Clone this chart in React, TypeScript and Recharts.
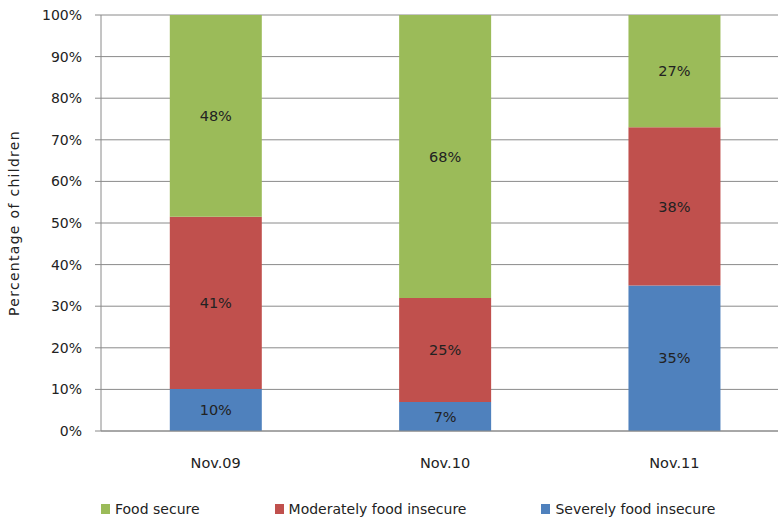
import { BarChart, Bar, XAxis, YAxis, CartesianGrid, LabelList, Legend, Label } from "recharts";

const periods = ["Nov.09", "Nov.10", "Nov.11"];
const severelyInsecure = [10, 7, 35];
const moderatelyInsecure = [41, 25, 38];
const foodSecure = [48, 68, 27];
const yTicks = [0, 0.1, 0.2, 0.3, 0.4, 0.5, 0.6, 0.7, 0.8, 0.9, 1];
const boundaryTicks = [0, 1, 2, 3];
const legendOrder = ["Food secure", "Moderately food insecure", "Severely food insecure"];

const chartData = periods.map((period, i) => ({
  period,
  severe: severelyInsecure[i],
  moderate: moderatelyInsecure[i],
  secure: foodSecure[i],
}));

const FONT = "'DejaVu Sans', Verdana, sans-serif";
const AXIS_GRAY = "#8a8a8a";
const TEXT = "#222";

const series = [
  { key: "severe", name: "Severely food insecure", color: "#4F81BD" },
  { key: "moderate", name: "Moderately food insecure", color: "#C0504D" },
  { key: "secure", name: "Food secure", color: "#9BBB59" },
];

function renderLegend(props: any) {
  const payload = props.payload || [];
  const items = legendOrder
    .map((name) => payload.find((p: any) => p.value === name))
    .filter(Boolean);
  return (
    <div style={{ display: "flex", gap: 75, fontFamily: FONT, fontSize: 14, color: TEXT }}>
      {items.map((item: any) => (
        <div key={item.value} style={{ display: "flex", alignItems: "center" }}>
          <span style={{ display: "inline-block", width: 9, height: 10, background: item.color, marginRight: 5 }} />
          <span>{item.value}</span>
        </div>
      ))}
    </div>
  );
}

function YTitle(props: any) {
  const vb = props.viewBox || {};
  const cy = vb.y + vb.height / 2;
  return (
    <text
      x={14}
      y={cy}
      transform={`rotate(-90, 14, ${cy})`}
      textAnchor="middle"
      dominantBaseline="central"
      style={{ fontFamily: FONT, fontSize: 14, letterSpacing: 1.3, fill: TEXT }}
    >
      Percentage of children
    </text>
  );
}

export default function App() {
  return (
    <div style={{ position: "absolute", left: 0, top: 0, width: 778, height: 519, overflow: "hidden", background: "#fff" }}>
      <BarChart
        width={789}
        height={519}
        data={chartData}
        stackOffset="expand"
        barCategoryGap="30%"
        margin={{ top: 15, right: 0, bottom: 0, left: 10 }}
      >
        <CartesianGrid vertical={false} stroke={AXIS_GRAY} xAxisId="cat" />
        <XAxis
          xAxisId="edges"
          type="number"
          domain={[0, 3]}
          ticks={boundaryTicks}
          height={0}
          axisLine={false}
          tick={false}
          tickLine={{ stroke: AXIS_GRAY }}
          tickSize={6}
        />
        <XAxis
          xAxisId="cat"
          dataKey="period"
          height={72}
          axisLine={{ stroke: AXIS_GRAY }}
          tickLine={false}
          tickSize={0}
          tickMargin={27}
          tick={{ fill: TEXT, fontFamily: FONT, fontSize: 14.5 }}
        />
        <YAxis
          width={91}
          ticks={yTicks}
          domain={[0, 1]}
          interval={0}
          tickFormatter={(v: number) => `${Math.round(v * 100)}%`}
          axisLine={{ stroke: AXIS_GRAY }}
          tickLine={{ stroke: AXIS_GRAY }}
          tickSize={6}
          tickMargin={13}
          tick={{ fill: TEXT, fontFamily: FONT, fontSize: 14 }}
        >
          <Label content={<YTitle />} />
        </YAxis>
        <Legend
          verticalAlign="bottom"
          content={renderLegend}
          wrapperStyle={{ left: 101, bottom: 2, width: "auto" }}
        />
        {series.map((s) => (
          <Bar key={s.key} xAxisId="cat" dataKey={s.key} name={s.name} stackId="a" fill={s.color} isAnimationActive={false}>
            <LabelList
              dataKey={s.key}
              position="center"
              formatter={(v: any) => `${v}%`}
              style={{ fill: TEXT, fontFamily: FONT, fontSize: 14.5 }}
            />
          </Bar>
        ))}
      </BarChart>
    </div>
  );
}
